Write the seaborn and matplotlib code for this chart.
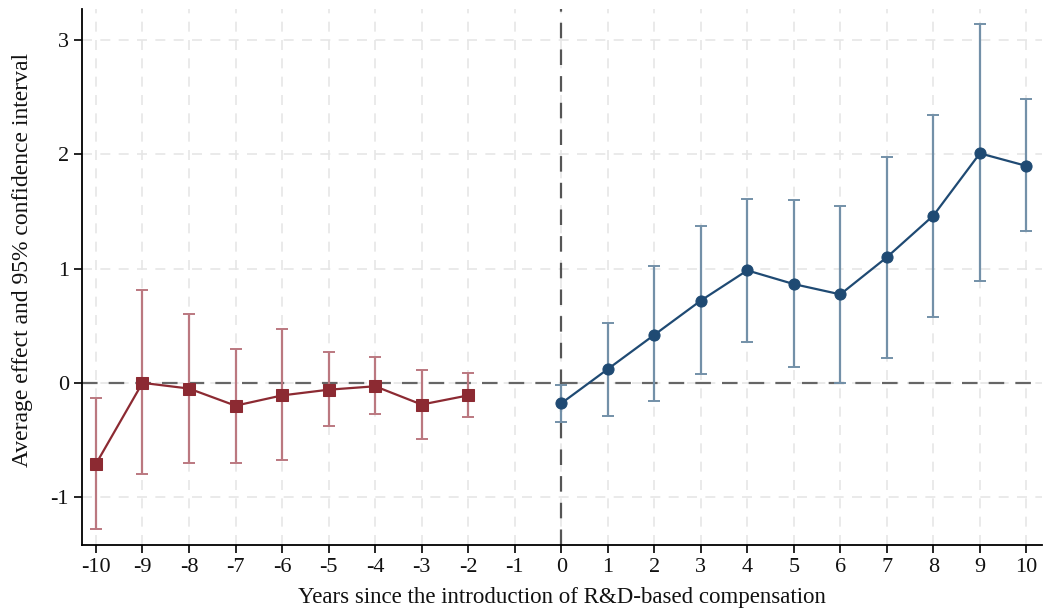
import numpy as np
import pandas as pd
import matplotlib
matplotlib.use("Agg")
import matplotlib.pyplot as plt
import seaborn as sns

# ---- data ----
pre_years = [-10, -9, -8, -7, -6, -5, -4, -3, -2]
pre_est = [-0.71, 0.00, -0.05, -0.20, -0.11, -0.06, -0.03, -0.19, -0.11]
pre_lo = [-1.28, -0.80, -0.70, -0.70, -0.68, -0.38, -0.27, -0.49, -0.30]
pre_hi = [-0.13, 0.81, 0.60, 0.30, 0.47, 0.27, 0.23, 0.11, 0.09]

post_years = [0, 1, 2, 3, 4, 5, 6, 7, 8, 9, 10]
post_est = [-0.18, 0.12, 0.42, 0.72, 0.985, 0.865, 0.775, 1.10, 1.465, 2.01, 1.90]
post_lo = [-0.345, -0.29, -0.16, 0.08, 0.36, 0.135, 0.00, 0.22, 0.58, 0.89, 1.33]
post_hi = [-0.02, 0.52, 1.02, 1.37, 1.61, 1.60, 1.55, 1.98, 2.35, 3.14, 2.485]

x_ticks = list(range(-10, 11))
y_ticks = [-1, 0, 1, 2, 3]
x_label = "Years since the introduction of R&D-based compensation"
y_label = "Average effect and 95% confidence interval"

red = "#8c2a32"
red_ci = "#bb7880"
blue = "#1f4a73"
blue_ci = "#7390a8"

pre = pd.DataFrame({"year": pre_years, "est": pre_est, "lo": pre_lo, "hi": pre_hi})
post = pd.DataFrame({"year": post_years, "est": post_est, "lo": post_lo, "hi": post_hi})

sns.set_theme(style="white")
plt.rcParams["font.family"] = ["Liberation Serif", "DejaVu Serif"]

fig = plt.figure(figsize=(10.46, 6.12), dpi=100)
ax = fig.add_axes([0.0784, 0.1095, 0.918, 0.875])

# grid
for xv in x_ticks:
    ax.axvline(xv, color="#e6e6e6", lw=1.2, ls=(0, (6, 5)), zorder=0)
for yv in y_ticks:
    ax.axhline(yv, color="#e6e6e6", lw=1.2, ls=(0, (6, 5)), zorder=0)

# reference lines
ax.axhline(0, color="#666666", lw=1.6, ls=(0, (7, 5)), zorder=1)
ax.axvline(0, color="#555555", lw=1.6, ls=(0, (7, 5)), zorder=1)

# confidence intervals
ax.errorbar(pre["year"], pre["est"],
            yerr=[pre["est"] - pre["lo"], pre["hi"] - pre["est"]],
            fmt="none", ecolor=red_ci, elinewidth=1.6, capsize=4, capthick=1.4, zorder=2)
ax.errorbar(post["year"], post["est"],
            yerr=[post["est"] - post["lo"], post["hi"] - post["est"]],
            fmt="none", ecolor=blue_ci, elinewidth=1.6, capsize=4, capthick=1.4, zorder=2)

sns.lineplot(data=pre, x="year", y="est", ax=ax, color=red, lw=1.6,
             marker="s", markersize=8, markeredgecolor=red, zorder=3)
sns.lineplot(data=post, x="year", y="est", ax=ax, color=blue, lw=1.6,
             marker="o", markersize=8, markeredgecolor=blue, zorder=3)

ax.set_xlim(-10.3, 10.34)
ax.set_ylim(-1.42, 3.27)
ax.set_xticks(x_ticks)
ax.set_xticklabels([str(v) for v in x_ticks])
ax.set_yticks(y_ticks)
ax.set_yticklabels([str(v) for v in y_ticks])
ax.tick_params(axis="both", direction="out", length=6, width=1.2, color="black",
               labelsize=16, labelcolor="#111111", bottom=True, left=True)
ax.set_xlabel(x_label, fontsize=16.5, color="#111111", labelpad=7)
ax.set_ylabel(y_label, fontsize=17, color="#111111")
ax.yaxis.set_label_coords(-0.051, 0.533)

for s in ["top", "right"]:
    ax.spines[s].set_visible(False)
for s in ["left", "bottom"]:
    ax.spines[s].set_color("black")
    ax.spines[s].set_linewidth(1.3)

fig.savefig("out.png", dpi=100)
